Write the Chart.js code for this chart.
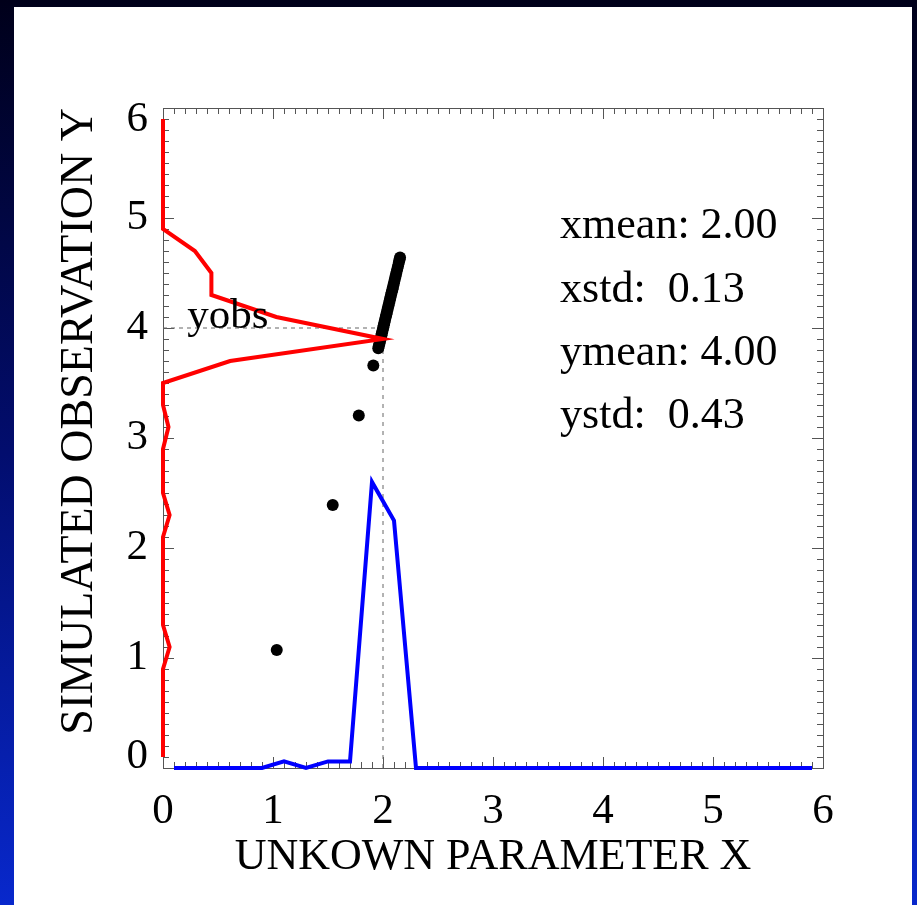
<!DOCTYPE html>
<html>
<head>
<meta charset="utf-8">
<script src="https://cdn.jsdelivr.net/npm/chart.js@4.4.0/dist/chart.umd.min.js"></script>
<style>
html,body{margin:0;padding:0;background:#000018;overflow:hidden}
canvas{display:block}
</style>
</head>
<body>
<canvas id="c" width="917" height="905"></canvas>
<script>
// ---------------- data ----------------
const xTickLabels = ['0', '1', '2', '3', '4', '5', '6'];
const yTickLabels = ['0', '1', '2', '3', '4', '5', '6'];

// histogram bin centres (shared by both marginal histograms)
const histBins = [0.1, 0.3, 0.5, 0.7, 0.9, 1.1, 1.3, 1.5, 1.7, 1.9,
                  2.1, 2.3, 2.5, 2.7, 2.9, 3.1, 3.3, 3.5, 3.7, 3.9,
                  4.1, 4.3, 4.5, 4.7, 4.9, 5.1, 5.3, 5.5, 5.7, 5.9];
// red: histogram of simulated observation Y (drawn along the Y axis)
const yHistValues = [0, 0, 0, 0, 0, 0.06, 0, 0, 0, 0,
                     0, 0.06, 0, 0, 0, 0.05, 0, 0, 0.61, 2.0,
                     1.03, 0.44, 0.44, 0.29, 0, 0, 0, 0, 0, 0];
// blue: histogram of unknown parameter X (drawn along the X axis)
const xHistValues = [0, 0, 0, 0, 0, 0.06, 0, 0.06, 0.06, 2.6,
                     2.25, 0, 0, 0, 0, 0, 0, 0, 0, 0,
                     0, 0, 0, 0, 0, 0, 0, 0, 0, 0];

// black samples (x, y)
const sampleX = [1.034, 1.543, 1.780, 1.912, 1.957, 1.962, 1.968, 1.974, 1.979, 1.985,
                 1.990, 1.996, 2.002, 2.007, 2.013, 2.019, 2.025, 2.031, 2.037, 2.043,
                 2.049, 2.055, 2.061, 2.067, 2.073, 2.079, 2.086, 2.092, 2.099, 2.106,
                 2.113, 2.120, 2.128, 2.136, 2.144, 2.150, 2.155];
const sampleY = [1.073, 2.390, 3.205, 3.660, 3.815, 3.836, 3.860, 3.885, 3.907, 3.932,
                 3.953, 3.978, 4.003, 4.024, 4.049, 4.074, 4.099, 4.124, 4.149, 4.174,
                 4.199, 4.224, 4.249, 4.274, 4.299, 4.324, 4.353, 4.378, 4.407, 4.436,
                 4.466, 4.495, 4.528, 4.561, 4.595, 4.620, 4.640];

const xmean = 2.0;
const yobs = 4.0;
const statLines = ['xmean: 2.00', 'xstd:  0.13', 'ymean: 4.00', 'ystd:  0.43'];
const obsLabel = 'yobs';
const xTitle = 'UNKOWN PARAMETER X';
const yTitle = 'SIMULATED OBSERVATION Y';

// ---------------- plugin: background, frame, ticks, annotations ----------------
const decor = {
  id: 'decor',
  beforeDraw(chart) {
    const ctx = chart.ctx;
    ctx.save();
    const g = ctx.createLinearGradient(0, 0, 0, chart.height);
    g.addColorStop(0, '#00001a');
    g.addColorStop(0.5, '#020d6e');
    g.addColorStop(1, '#0828cc');
    ctx.fillStyle = g;
    ctx.fillRect(0, 0, chart.width, chart.height);
    ctx.fillStyle = '#ffffff';
    ctx.fillRect(14, 7, 898, 898);
    ctx.restore();
    // pull the end labels of the y axis inward
    const items = chart.scales.y.getLabelItems(chart.chartArea);
    if (items.length && !items.__shifted) {
      items[0].options.translation[1] -= 11;
      items[items.length - 1].options.translation[1] += 12;
      items.__shifted = true;
    }
  },
  beforeDatasetsDraw(chart) {
    const ctx = chart.ctx;
    const {left, right, top, bottom} = chart.chartArea;
    const xs = chart.scales.x, ys = chart.scales.y;
    ctx.save();
    ctx.strokeStyle = '#555';
    ctx.lineWidth = 1;
    ctx.beginPath();
    for (let k = 0; k <= 60; k++) {
      const v = k / 10;
      const L = (k % 10 === 0) ? 11 : 6;
      const px = Math.round(xs.getPixelForValue(v)) + 0.5;
      ctx.moveTo(px, bottom); ctx.lineTo(px, bottom - L);
      ctx.moveTo(px, top); ctx.lineTo(px, top + L);
      const py = Math.round(ys.getPixelForValue(v)) + 0.5;
      ctx.moveTo(left, py); ctx.lineTo(left + L, py);
      ctx.moveTo(right, py); ctx.lineTo(right - L, py);
    }
    ctx.stroke();
    ctx.strokeRect(Math.round(left) + 0.5, Math.round(top) + 0.5,
                   Math.round(right - left), Math.round(bottom - top));
    ctx.restore();
  },
  afterDraw(chart) {
    const ctx = chart.ctx;
    const xs = chart.scales.x, ys = chart.scales.y;
    ctx.save();
    ctx.fillStyle = '#000';
    ctx.textAlign = 'left';
    ctx.textBaseline = 'alphabetic';
    ctx.font = '44px "Liberation Serif"';
    const sx = xs.getPixelForValue(3.61);
    const sy = [4.82, 4.24, 3.66, 3.09];
    statLines.forEach((t, i) => ctx.fillText(t, sx, ys.getPixelForValue(sy[i])));
    ctx.font = '43px "Liberation Serif"';
    ctx.fillText(obsLabel, xs.getPixelForValue(0.22), ys.getPixelForValue(yobs));
    // y axis title
    ctx.font = '46px "Liberation Serif"';
    ctx.textAlign = 'center';
    ctx.textBaseline = 'middle';
    ctx.translate(80, ys.getPixelForValue(3.15));
    ctx.rotate(-Math.PI / 2);
    ctx.fillText(yTitle, 0, 0);
    ctx.restore();
  }
};

const serif = 'Liberation Serif';

new Chart(document.getElementById('c'), {
  type: 'scatter',
  data: {
    datasets: [
      {
        label: 'Y histogram',
        data: histBins.map((b, i) => ({x: yHistValues[i], y: b})),
        showLine: true, borderColor: '#ff0000', borderWidth: 4,
        pointRadius: 0, clip: false, tension: 0
      },
      {
        label: 'X histogram',
        data: histBins.map((b, i) => ({x: b, y: xHistValues[i]})),
        showLine: true, borderColor: '#0000ff', borderWidth: 4,
        pointRadius: 0, clip: false, tension: 0
      },
      {
        label: 'samples',
        data: sampleX.map((x, i) => ({x: x, y: sampleY[i]})),
        showLine: false, pointRadius: 6, pointBackgroundColor: '#000',
        pointBorderWidth: 0, backgroundColor: '#000', borderColor: '#000'
      },
      {
        label: 'yobs',
        data: [{x: 0, y: yobs}, {x: xmean, y: yobs}],
        showLine: true, borderColor: '#666', borderWidth: 1,
        borderDash: [4, 4], pointRadius: 0
      },
      {
        label: 'xmean',
        data: [{x: xmean, y: 0}, {x: xmean, y: yobs}],
        showLine: true, borderColor: '#666', borderWidth: 1,
        borderDash: [4, 5], pointRadius: 0
      }
    ]
  },
  options: {
    responsive: false,
    animation: false,
    events: [],
    devicePixelRatio: 1,
    layout: {padding: {left: 53, right: 94, top: 108, bottom: 17}},
    plugins: {legend: {display: false}, tooltip: {enabled: false}},
    scales: {
      x: {
        type: 'linear', min: 0, max: 6,
        afterFit(s) { s.height = 120; },
        grid: {display: false}, border: {display: false},
        ticks: {
          stepSize: 1, autoSkip: false, maxRotation: 0, padding: 10,
          color: '#000', font: {family: serif, size: 43},
          callback: (v, i) => xTickLabels[i]
        },
        title: {
          display: true, text: xTitle, color: '#000',
          font: {family: serif, size: 44, lineHeight: 1},
          padding: {top: 0, bottom: 9}
        }
      },
      y: {
        type: 'linear', min: 0, max: 6,
        afterFit(s) { s.width = 110; },
        grid: {display: false}, border: {display: false},
        ticks: {
          stepSize: 1, autoSkip: false, padding: 7,
          color: '#000', font: {family: serif, size: 43},
          callback: (v, i) => yTickLabels[i]
        },
        title: {display: false}
      }
    }
  },
  plugins: [decor]
});
</script>
</body>
</html>
